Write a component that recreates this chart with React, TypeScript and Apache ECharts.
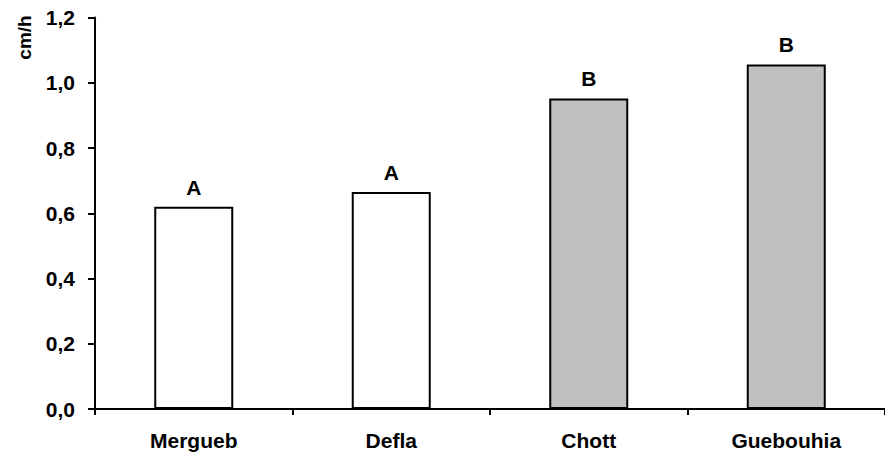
import React, { useEffect, useRef } from "react";
import * as echarts from "echarts";

const categories = ["Mergueb", "Defla", "Chott", "Guebouhia"];
const values = [0.62, 0.665, 0.952, 1.056];
const groupLetters = ["A", "A", "B", "B"];
const barColors = ["#ffffff", "#ffffff", "#c0c0c0", "#c0c0c0"];
const yTicks = { min: 0, max: 1.2, interval: 0.2 };
const yName = "cm/h";

export default function App() {
  const ref = useRef<HTMLDivElement>(null);
  useEffect(() => {
    if (!ref.current) return;
    const chart = echarts.init(ref.current, null, { renderer: "svg" });
    const font = "'Liberation Sans', Arial, sans-serif";
    chart.setOption({
      animation: false,
      backgroundColor: "#ffffff",
      grid: { left: 95, top: 17.5, height: 391.5, width: 797, containLabel: false },
      xAxis: {
        type: "category",
        data: categories,
        axisLine: { lineStyle: { color: "#000", width: 2 } },
        axisTick: { show: true, length: 6, lineStyle: { color: "#000", width: 2 } },
        axisLabel: { color: "#000", fontFamily: font, fontWeight: "bold", fontSize: 21, margin: 21 },
        splitLine: { show: false },
      },
      yAxis: {
        type: "value",
        min: yTicks.min,
        max: yTicks.max,
        interval: yTicks.interval,
        axisLine: { show: true, lineStyle: { color: "#000", width: 2 } },
        axisTick: { show: true, length: 7, lineStyle: { color: "#000", width: 2 } },
        axisLabel: {
          color: "#000",
          fontFamily: font,
          fontWeight: "bold",
          fontSize: 21,
          margin: 20,
          formatter: (v: number) => v.toFixed(1).replace(".", ","),
        },
        splitLine: { show: false },
      },
      graphic: [
        {
          type: "text",
          x: 24.5,
          y: 37.5,
          rotation: Math.PI / 2,
          style: {
            text: yName,
            fill: "#000",
            font: `bold 19px ${font}`,
            textAlign: "center",
            textVerticalAlign: "middle",
          },
        },
      ],
      series: [
        {
          type: "bar",
          barWidth: "40%",
          data: values.map((v, i) => ({
            value: v,
            itemStyle: { color: barColors[i], borderColor: "#000", borderWidth: 2 },
            label: { formatter: groupLetters[i] },
          })),
          label: {
            show: true,
            position: "top",
            distance: 9,
            color: "#000",
            fontFamily: font,
            fontWeight: "bold",
            fontSize: 21,
          },
        },
      ],
    });
    return () => chart.dispose();
  }, []);
  return <div ref={ref} style={{ width: 885, height: 457, position: "absolute", left: 0, top: 0 }} />;
}
